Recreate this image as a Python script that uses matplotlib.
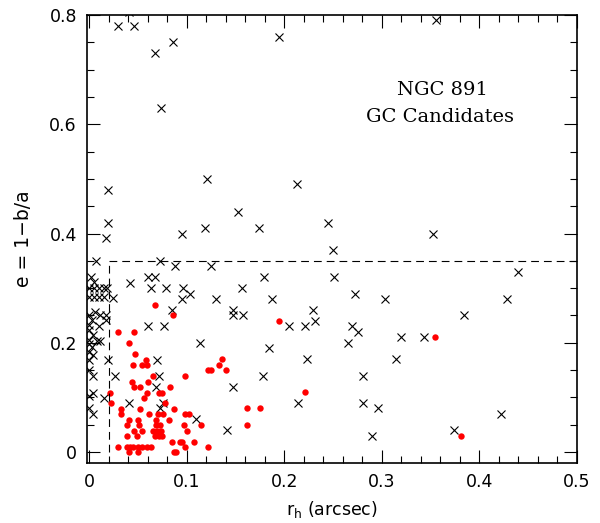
import matplotlib
matplotlib.use('Agg')
import matplotlib.pyplot as plt
from matplotlib.ticker import MultipleLocator

# all objects (crosses)
all_x = [0.030, 0.046, 0.041, 0.067, 0.086, 0.074, 0.195, 0.356,
	0.0196, 0.121, 0.213, 0.0196, 0.153, 0.245, 0.095, 0.119, 0.174, 0.017, 0.353, 0.250,
	0.007, 0.073, 0.088, 0.125, 0.440, 0.002, 0.005, 0.060, 0.067, 0.179, 0.251, 0.042,
	0.000, 0.005, 0.010, 0.015, 0.018, 0.063, 0.079, 0.096, 0.157, 0.103, 0.273,
	0.000, 0.005, 0.010, 0.015, 0.024, 0.095, 0.130, 0.188, 0.303, 0.429,
	0.006, 0.085, 0.148, 0.230, 0.147, 0.158, 0.384, 0.000, 0.011, 0.017, 0.0025, 0.017,
	0.000, 0.010, 0.060, 0.077, 0.205, 0.221, 0.270, 0.232, 0.276, 0.000, 0.004, 0.320, 0.343,
	0.000, 0.000, 0.0025, 0.008, 0.011, 0.114, 0.265, 0.184,
	0.000, 0.004, 0.000, 0.019, 0.070, 0.223, 0.315, 0.000, 0.004, 0.026, 0.072, 0.178, 0.281,
	0.068, 0.147, 0.000, 0.004, 0.015, 0.041, 0.076, 0.214, 0.281, 0.073, 0.296, 0.000, 0.004, 0.110, 0.422,
	0.141, 0.374, 0.290]
all_y = [0.780, 0.780, 0.805, 0.730, 0.750, 0.630, 0.760, 0.791,
	0.480, 0.500, 0.490, 0.420, 0.440, 0.420, 0.400, 0.410, 0.410, 0.392, 0.400, 0.370,
	0.350, 0.350, 0.340, 0.340, 0.330, 0.320, 0.312, 0.320, 0.320, 0.320, 0.320, 0.310,
	0.300, 0.300, 0.300, 0.300, 0.300, 0.300, 0.300, 0.300, 0.300, 0.290, 0.290,
	0.284, 0.284, 0.284, 0.284, 0.282, 0.280, 0.280, 0.280, 0.280, 0.280,
	0.257, 0.260, 0.260, 0.260, 0.250, 0.250, 0.250, 0.251, 0.251, 0.251, 0.242, 0.241,
	0.233, 0.231, 0.230, 0.230, 0.230, 0.230, 0.230, 0.240, 0.220, 0.224, 0.215, 0.210, 0.210,
	0.206, 0.198, 0.193, 0.2025, 0.2025, 0.200, 0.200, 0.190,
	0.184, 0.178, 0.169, 0.169, 0.169, 0.170, 0.170, 0.151, 0.139, 0.139, 0.139, 0.140, 0.140,
	0.119, 0.120, 0.102, 0.108, 0.099, 0.089, 0.090, 0.090, 0.090, 0.080, 0.080, 0.081, 0.069, 0.060, 0.070,
	0.040, 0.040, 0.030]

# GC candidates (red dots)
gc_x = [0.067, 0.086, 0.195, 0.355, 0.030, 0.046, 0.041, 0.047, 0.058, 0.136,
	0.045, 0.054, 0.059, 0.133, 0.122, 0.125, 0.140, 0.098, 0.065, 0.044,
	0.060, 0.046, 0.052, 0.083, 0.021, 0.059, 0.072, 0.075, 0.221, 0.056,
	0.022, 0.078, 0.033, 0.052, 0.087, 0.162, 0.175,
	0.033, 0.061, 0.071, 0.076, 0.098, 0.102,
	0.041, 0.050, 0.069, 0.082,
	0.039, 0.051, 0.0685, 0.073, 0.097, 0.115, 0.162,
	0.046, 0.0545, 0.065, 0.070, 0.074, 0.100,
	0.0385, 0.049, 0.0675, 0.0716, 0.075, 0.381,
	0.0846, 0.093, 0.0955, 0.1075,
	0.030, 0.0385, 0.042, 0.045, 0.050, 0.054, 0.059, 0.063, 0.122, 0.098,
	0.041, 0.0497, 0.087, 0.089]
gc_y = [0.270, 0.250, 0.240, 0.210, 0.219, 0.219, 0.200, 0.180, 0.169, 0.170,
	0.159, 0.159, 0.159, 0.160, 0.150, 0.150, 0.150, 0.140, 0.139, 0.129,
	0.129, 0.119, 0.119, 0.119, 0.109, 0.109, 0.109, 0.109, 0.110, 0.099,
	0.089, 0.089, 0.079, 0.079, 0.079, 0.080, 0.080,
	0.069, 0.069, 0.069, 0.069, 0.070, 0.070,
	0.059, 0.059, 0.059, 0.059,
	0.049, 0.049, 0.049, 0.049, 0.050, 0.050, 0.050,
	0.039, 0.039, 0.039, 0.039, 0.039, 0.039,
	0.030, 0.030, 0.030, 0.030, 0.030, 0.030,
	0.019, 0.019, 0.019, 0.019,
	0.010, 0.010, 0.010, 0.010, 0.010, 0.010, 0.010, 0.010, 0.010, 0.010,
	0.000, 0.000, 0.000, 0.000]

rh_cut = 0.02
e_cut = 0.35

fig = plt.figure(figsize=(6, 5.23), dpi=100)
ax = fig.add_axes([0.1445, 0.1147, 0.8165, 0.8566])

ax.plot(all_x, all_y, 'x', color='black', markersize=5.5, markeredgewidth=0.8)
ax.plot(gc_x, gc_y, 'o', color='#ff0000', markersize=4.6, markeredgewidth=0)

# selection box
ax.plot([rh_cut, 0.5], [e_cut, e_cut], color='black', lw=0.8, dashes=(7, 4.5))
ax.plot([rh_cut, rh_cut], [0, e_cut], color='black', lw=0.8, dashes=(7, 4.5))

ax.set_xlim(-0.0026, 0.5)
ax.set_ylim(-0.02, 0.8)
ax.xaxis.set_major_locator(MultipleLocator(0.1))
ax.xaxis.set_minor_locator(MultipleLocator(0.02))
ax.yaxis.set_major_locator(MultipleLocator(0.2))
ax.yaxis.set_minor_locator(MultipleLocator(0.05))
ax.xaxis.set_major_formatter(plt.FuncFormatter(lambda v, p: '0' if abs(v) < 1e-9 else '%g' % v))
ax.yaxis.set_major_formatter(plt.FuncFormatter(lambda v, p: '0' if abs(v) < 1e-9 else '%g' % v))
ax.tick_params(which='both', direction='in', top=True, right=True, width=0.8)
ax.tick_params(which='major', length=9.5, labelsize=12.5, pad=7)
ax.tick_params(which='minor', length=5)
for s in ax.spines.values():
	s.set_linewidth(1.2)

ax.set_xlabel(r'$\mathregular{r_h}$ (arcsec)', fontsize=12.5, labelpad=6)
ax.set_ylabel('e = 1\u2212b/a', fontsize=13.5, labelpad=12)

ax.text(0.362, 0.663, 'NGC 891', family='DejaVu Serif', fontsize=14, ha='center', va='center')
ax.text(0.360, 0.613, 'GC Candidates', family='DejaVu Serif', fontsize=14, ha='center', va='center')

fig.savefig('out.png', dpi=100)
